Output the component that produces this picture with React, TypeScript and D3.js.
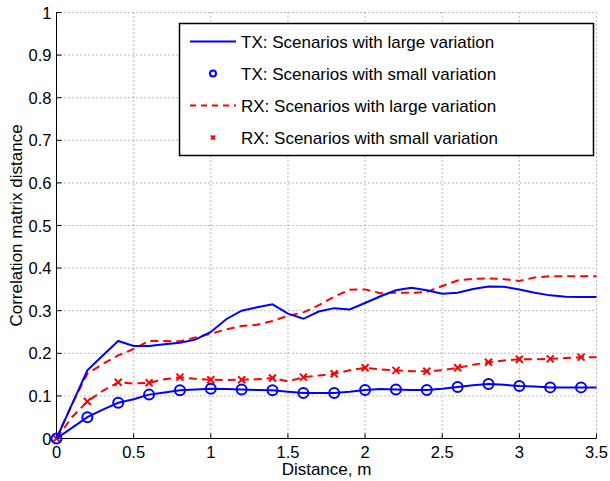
import React from "react";
import * as d3 from "d3";

const distances = [0,0.1,0.2,0.3,0.4,0.5,0.6,0.7,0.8,0.9,1.0,1.1,1.2,1.3,1.4,1.5,1.6,1.7,1.8,1.9,2.0,2.1,2.2,2.3,2.4,2.5,2.6,2.7,2.8,2.9,3.0,3.1,3.2,3.3,3.4,3.5];

const txLarge = [0,0.08,0.16,0.195,0.229,0.217,0.217,0.221,0.225,0.232,0.25,0.28,0.300,0.308,0.315,0.293,0.281,0.298,0.306,0.303,0.318,0.334,0.348,0.354,0.348,0.340,0.342,0.351,0.357,0.356,0.350,0.342,0.336,0.333,0.332,0.332];
const txSmall = [0,0.025,0.050,0.068,0.084,0.092,0.103,0.108,0.113,0.115,0.117,0.116,0.115,0.114,0.113,0.110,0.107,0.107,0.107,0.110,0.114,0.116,0.115,0.114,0.114,0.117,0.121,0.125,0.128,0.126,0.123,0.122,0.120,0.120,0.120,0.120];
const rxLarge = [0,0.08,0.152,0.175,0.195,0.21,0.229,0.229,0.228,0.237,0.246,0.256,0.264,0.267,0.276,0.288,0.296,0.313,0.333,0.349,0.350,0.341,0.342,0.342,0.344,0.358,0.371,0.375,0.376,0.374,0.370,0.378,0.381,0.381,0.381,0.381];
const rxSmall = [0,0.05,0.087,0.112,0.132,0.129,0.131,0.139,0.144,0.140,0.138,0.137,0.138,0.139,0.142,0.134,0.144,0.148,0.152,0.160,0.166,0.162,0.160,0.158,0.158,0.160,0.166,0.173,0.179,0.183,0.186,0.186,0.187,0.189,0.191,0.191];

const xTicks = [0,0.5,1,1.5,2,2.5,3,3.5];
const yTicks = [0,0.1,0.2,0.3,0.4,0.5,0.6,0.7,0.8,0.9,1];
const xTickLabels = ["0","0.5","1","1.5","2","2.5","3","3.5"];
const yTickLabels = ["0","0.1","0.2","0.3","0.4","0.5","0.6","0.7","0.8","0.9","1"];
const legendLabels = [
  "TX: Scenarios with large variation",
  "TX: Scenarios with small variation",
  "RX: Scenarios with large variation",
  "RX: Scenarios with small variation",
];

const W = 610, H = 481;
const L = 56.5, R = 596.5, T = 12.5, B = 438.5;
const FONT = "'Liberation Sans', Arial, Helvetica, sans-serif";
const BLUE = "#0000ff";
const RED = "#ff0000";

export default function App() {
  const x = d3.scaleLinear().domain([0, 3.5]).range([L, R]);
  const y = d3.scaleLinear().domain([0, 1]).range([B, T]);
  const line = d3.line<number>().x((_, i) => x(distances[i])).y((d) => y(d));

  const markerIdx = distances.map((_, i) => i).filter((i) => i % 2 === 0 && i < distances.length - 1);

  const xMark = (cx: number, cy: number, s: number, key: any) => (
    <path key={key} d={`M${cx - s},${cy - s}L${cx + s},${cy + s}M${cx - s},${cy + s}L${cx + s},${cy - s}`} stroke={RED} strokeWidth={2} fill="none" />
  );

  const legX = 179.5, legY = 23.5, legW = 414, legH = 132;
  const rowY = [41.5, 73.5, 105.5, 137.5];

  return (
    <svg width={W} height={H} style={{ position: "absolute", left: 0, top: 0, background: "#fff" }} fontFamily={FONT}>
      <rect x={0} y={0} width={W} height={H} fill="#fff" />
      {/* grid */}
      {xTicks.map((t, i) => (
        <line key={"gx" + i} x1={x(t)} x2={x(t)} y1={T} y2={B} stroke="#555" strokeWidth={0.8} strokeDasharray="1,3" />
      ))}
      {yTicks.map((t, i) => (
        <line key={"gy" + i} x1={L} x2={R} y1={y(t)} y2={y(t)} stroke="#555" strokeWidth={0.8} strokeDasharray="1,3" />
      ))}
      {/* axes */}
      <line x1={L} x2={L} y1={T} y2={B} stroke="#000" strokeWidth={1} />
      <line x1={L} x2={R} y1={B} y2={B} stroke="#000" strokeWidth={1} />
      {xTicks.map((t, i) => (
        <g key={"xt" + i}>
          <line x1={x(t)} x2={x(t)} y1={B} y2={B - 5} stroke="#000" />
          <text x={x(t)} y={B + 19} textAnchor="middle" fontSize={16.5}>{xTickLabels[i]}</text>
        </g>
      ))}
      {yTicks.map((t, i) => (
        <g key={"yt" + i}>
          <line x1={L} x2={L + 5} y1={y(t)} y2={y(t)} stroke="#000" />
          <text x={L - 5} y={y(t) + 6} textAnchor="end" fontSize={16.5}>{yTickLabels[i]}</text>
        </g>
      ))}
      <text x={(L + R) / 2} y={475} textAnchor="middle" fontSize={17}>Distance, m</text>
      <text transform={`translate(22,${(T + B) / 2}) rotate(-90)`} textAnchor="middle" fontSize={17}>Correlation matrix distance</text>

      {/* series */}
      <path d={line(rxSmall) || ""} fill="none" stroke={RED} strokeWidth={2} strokeDasharray="8,5" />
      {markerIdx.map((i) => xMark(x(distances[i]), y(rxSmall[i]), 3.5, "rxm" + i))}
      <path d={line(txSmall) || ""} fill="none" stroke={BLUE} strokeWidth={2} />
      {markerIdx.map((i) => (
        <circle key={"txm" + i} cx={x(distances[i])} cy={y(txSmall[i])} r={5} fill="none" stroke={BLUE} strokeWidth={2} />
      ))}
      <path d={line(rxLarge) || ""} fill="none" stroke={RED} strokeWidth={2} strokeDasharray="8,5" />
      <path d={line(txLarge) || ""} fill="none" stroke={BLUE} strokeWidth={2} />

      {/* legend */}
      <rect x={legX} y={legY} width={legW} height={legH} fill="#fff" stroke="#000" strokeWidth={1.5} />
      <line x1={190} x2={236} y1={rowY[0]} y2={rowY[0]} stroke={BLUE} strokeWidth={2} />
      <circle cx={213} cy={rowY[1]} r={3} fill="none" stroke={BLUE} strokeWidth={2} />
      <line x1={190} x2={236} y1={rowY[2]} y2={rowY[2]} stroke={RED} strokeWidth={2} strokeDasharray="6,5" />
      {xMark(213, rowY[3], 2, "legx")}
      {legendLabels.map((s, i) => (
        <text key={"lg" + i} x={241} y={rowY[i] + 6} fontSize={17}>{s}</text>
      ))}
    </svg>
  );
}
